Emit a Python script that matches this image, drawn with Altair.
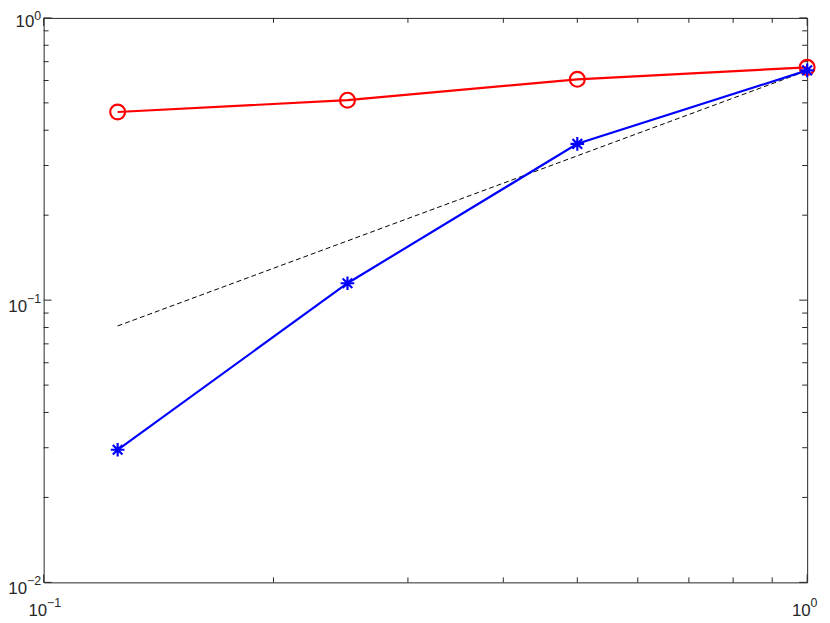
import altair as alt
import pandas as pd

# ---- data ----
x_vals = [0.125, 0.25, 0.5, 1.0]
red_vals = [0.464, 0.511, 0.606, 0.668]
blue_vals = [0.0295, 0.1148, 0.358, 0.652]
ref_x = [0.125, 1.0]
ref_y = [0.081, 0.65]

x_major = [0.1, 1.0]
x_minor = [0.2, 0.3, 0.4, 0.5, 0.6, 0.7, 0.8, 0.9]
y_major = [0.01, 0.1, 1.0]
y_minor = [0.02, 0.03, 0.04, 0.05, 0.06, 0.07, 0.08, 0.09,
           0.2, 0.3, 0.4, 0.5, 0.6, 0.7, 0.8, 0.9]
x_lab_vals = [0.1, 1.0]
x_lab_exps = ["\u22121", "0"]
y_lab_vals = [0.01, 0.1, 1.0]
y_lab_exps = ["\u22122", "\u22121", "0"]

W, H = 771, 570
AX = "#262626"
FONT = "Liberation Sans"
FS_BASE, FS_EXP = 17, 12.5

xs = alt.Scale(type="log", domain=[0.1, 1.0], nice=False)
ys = alt.Scale(type="log", domain=[0.01, 1.0], nice=False)

df_main = pd.DataFrame({"x": x_vals, "red": red_vals, "blue": blue_vals})
df_ref = pd.DataFrame({"x": ref_x, "y": ref_y})
df_xmaj = pd.DataFrame({"v": x_major})
df_xmin = pd.DataFrame({"v": x_minor})
df_ymaj = pd.DataFrame({"v": y_major})
df_ymin = pd.DataFrame({"v": y_minor})
df_xlab = pd.DataFrame({"v": x_lab_vals, "e": x_lab_exps})
df_ylab = pd.DataFrame({"v": y_lab_vals, "e": y_lab_exps})

X = lambda f: alt.X(f, type="quantitative", scale=xs, axis=None)
Y = lambda f: alt.Y(f, type="quantitative", scale=ys, axis=None)

star = ("M0,-1L0,1M-1,0L1,0M-0.7071,-0.7071L0.7071,0.7071"
        "M-0.7071,0.7071L0.7071,-0.7071")

layers = []

# ticks (inward, on all four sides)
def xticks(df, ln):
    bot = alt.Chart(df).mark_rule(color=AX, strokeWidth=1).encode(
        x=X("v"), y=alt.value(H), y2=alt.value(H - ln))
    top = alt.Chart(df).mark_rule(color=AX, strokeWidth=1).encode(
        x=X("v"), y=alt.value(0), y2=alt.value(ln))
    return [bot, top]

def yticks(df, ln):
    lft = alt.Chart(df).mark_rule(color=AX, strokeWidth=1).encode(
        y=Y("v"), x=alt.value(0), x2=alt.value(ln))
    rgt = alt.Chart(df).mark_rule(color=AX, strokeWidth=1).encode(
        y=Y("v"), x=alt.value(W), x2=alt.value(W - ln))
    return [lft, rgt]

layers += xticks(df_xmaj, 8) + xticks(df_xmin, 5)
layers += yticks(df_ymaj, 8) + yticks(df_ymin, 5)

# reference dashed line
layers.append(alt.Chart(df_ref).mark_line(color="black", strokeWidth=1, strokeDash=[5, 3]).encode(
    x=X("x"), y=Y("y")))

# red series
layers.append(alt.Chart(df_main).mark_line(color="#ff0000", strokeWidth=2.2).encode(
    x=X("x"), y=Y("red")))
layers.append(alt.Chart(df_main).mark_point(shape="circle", size=225, filled=False,
                                           color="#ff0000", strokeWidth=2.2, opacity=1).encode(
    x=X("x"), y=Y("red")))

# blue series
layers.append(alt.Chart(df_main).mark_line(color="#0000ff", strokeWidth=2.2).encode(
    x=X("x"), y=Y("blue")))
layers.append(alt.Chart(df_main).mark_point(shape=star, size=190, filled=False,
                                           color="#0000ff", strokeWidth=2.2, opacity=1).encode(
    x=X("x"), y=Y("blue")))

# x tick labels: "10" + superscript exponent
layers.append(alt.Chart(df_xlab).mark_text(font=FONT, fontSize=FS_BASE, color=AX, align="right",
                                          baseline="alphabetic", dx=3.5).encode(
    x=X("v"), y=alt.value(H + 33.5), text=alt.value("10")))
layers.append(alt.Chart(df_xlab).mark_text(font=FONT, fontSize=FS_EXP, color=AX, align="left",
                                          baseline="alphabetic", dx=3.5).encode(
    x=X("v"), y=alt.value(H + 25), text="e:N"))

# y tick labels
layers.append(alt.Chart(df_ylab).transform_filter("datum.e != '0'").mark_text(
    font=FONT, fontSize=FS_BASE, color=AX, align="right", baseline="alphabetic", dy=11.5).encode(
    y=Y("v"), x=alt.value(-16.75), text=alt.value("10")))
layers.append(alt.Chart(df_ylab).transform_filter("datum.e != '0'").mark_text(
    font=FONT, fontSize=FS_EXP, color=AX, align="right", baseline="alphabetic", dy=3).encode(
    y=Y("v"), x=alt.value(-2.5), text="e:N"))
layers.append(alt.Chart(df_ylab).transform_filter("datum.e == '0'").mark_text(
    font=FONT, fontSize=FS_BASE, color=AX, align="right", baseline="alphabetic", dy=9).encode(
    y=Y("v"), x=alt.value(-9.45), text=alt.value("10")))
layers.append(alt.Chart(df_ylab).transform_filter("datum.e == '0'").mark_text(
    font=FONT, fontSize=FS_EXP, color=AX, align="right", baseline="alphabetic", dy=2.5).encode(
    y=Y("v"), x=alt.value(-2.5), text="e:N"))

chart = alt.layer(*layers).properties(
    width=W, height=H,
    autosize=alt.AutoSizeParams(type="none"),
    padding={"left": 36, "top": 7, "right": 15, "bottom": 36},
    background="white",
).configure_view(stroke=AX, strokeWidth=1)

chart.save("out.html", embed_options={"renderer": "svg", "actions": False})
